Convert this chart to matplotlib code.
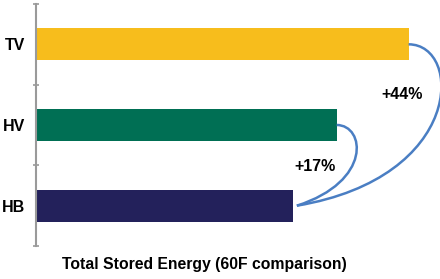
import matplotlib
matplotlib.use("Agg")
import matplotlib.pyplot as plt
from matplotlib.path import Path
from matplotlib.patches import PathPatch

categories = ["HB", "HV", "TV"]
values = [100, 117, 145]
colors = ["#23215B", "#006F54", "#F7BD1C"]
annotations = ["+17%", "+44%"]
xlabel = "Total Stored Energy (60F comparison)"

FONT = ["Liberation Sans", "DejaVu Sans"]

fig = plt.figure(figsize=(4.4, 2.79), dpi=100)
ax = fig.add_axes([36/440, 1-246/279, 404/440, 242/279])

ypos = list(range(len(categories)))
ax.barh(ypos, values, height=0.4, color=colors)
ax.set_ylim(-0.5, 2.5)
ax.set_xlim(0, 157.2)

ax.set_yticks(ypos)
ax.set_yticklabels(categories, fontfamily=FONT, fontweight="bold", fontsize=11.5)
ax.tick_params(axis="y", which="major", length=0, pad=8)
ax.set_yticks([-0.5, 0.5, 1.5, 2.5], minor=True)
ax.tick_params(axis="y", which="minor", length=5, width=1.2, color="#9a9a9a", direction="inout")
ax.set_xticks([])
for s in ["top", "right", "bottom"]:
    ax.spines[s].set_visible(False)
ax.spines["left"].set_color("#9a9a9a")
ax.spines["left"].set_linewidth(1.5)

ax.set_xlabel(xlabel, fontfamily=FONT, fontweight="bold", fontsize=11.3)
ax.xaxis.set_label_coords(204/404 - 36/404 + 0.0, -0.078)
ax.xaxis.label.set_va("center")

blue = "#4A7EC3"
hb, hv, tv = values
end = (hb + 1.5, 0.0)
# TV -> HB curve
p1 = Path([(tv, 2.0), (tv + 21, 2.0), (tv + 22, 0.35), end],
          [Path.MOVETO, Path.CURVE4, Path.CURVE4, Path.CURVE4])
ax.add_patch(PathPatch(p1, fill=False, edgecolor=blue, lw=1.8, clip_on=False))
# HV -> HB curve
p2 = Path([(hv, 1.0), (hv + 11, 1.0), (hv + 14, 0.3), end],
          [Path.MOVETO, Path.CURVE4, Path.CURVE4, Path.CURVE4])
ax.add_patch(PathPatch(p2, fill=False, edgecolor=blue, lw=1.8, clip_on=False))

ax.text((402-36)/2.57, 1.38, annotations[1], ha="center", va="center",
        fontfamily=FONT, fontweight="bold", fontsize=11.5)
ax.text((315-36)/2.57, 0.49, annotations[0], ha="center", va="center",
        fontfamily=FONT, fontweight="bold", fontsize=11.5)

fig.savefig("out.png", dpi=100)
